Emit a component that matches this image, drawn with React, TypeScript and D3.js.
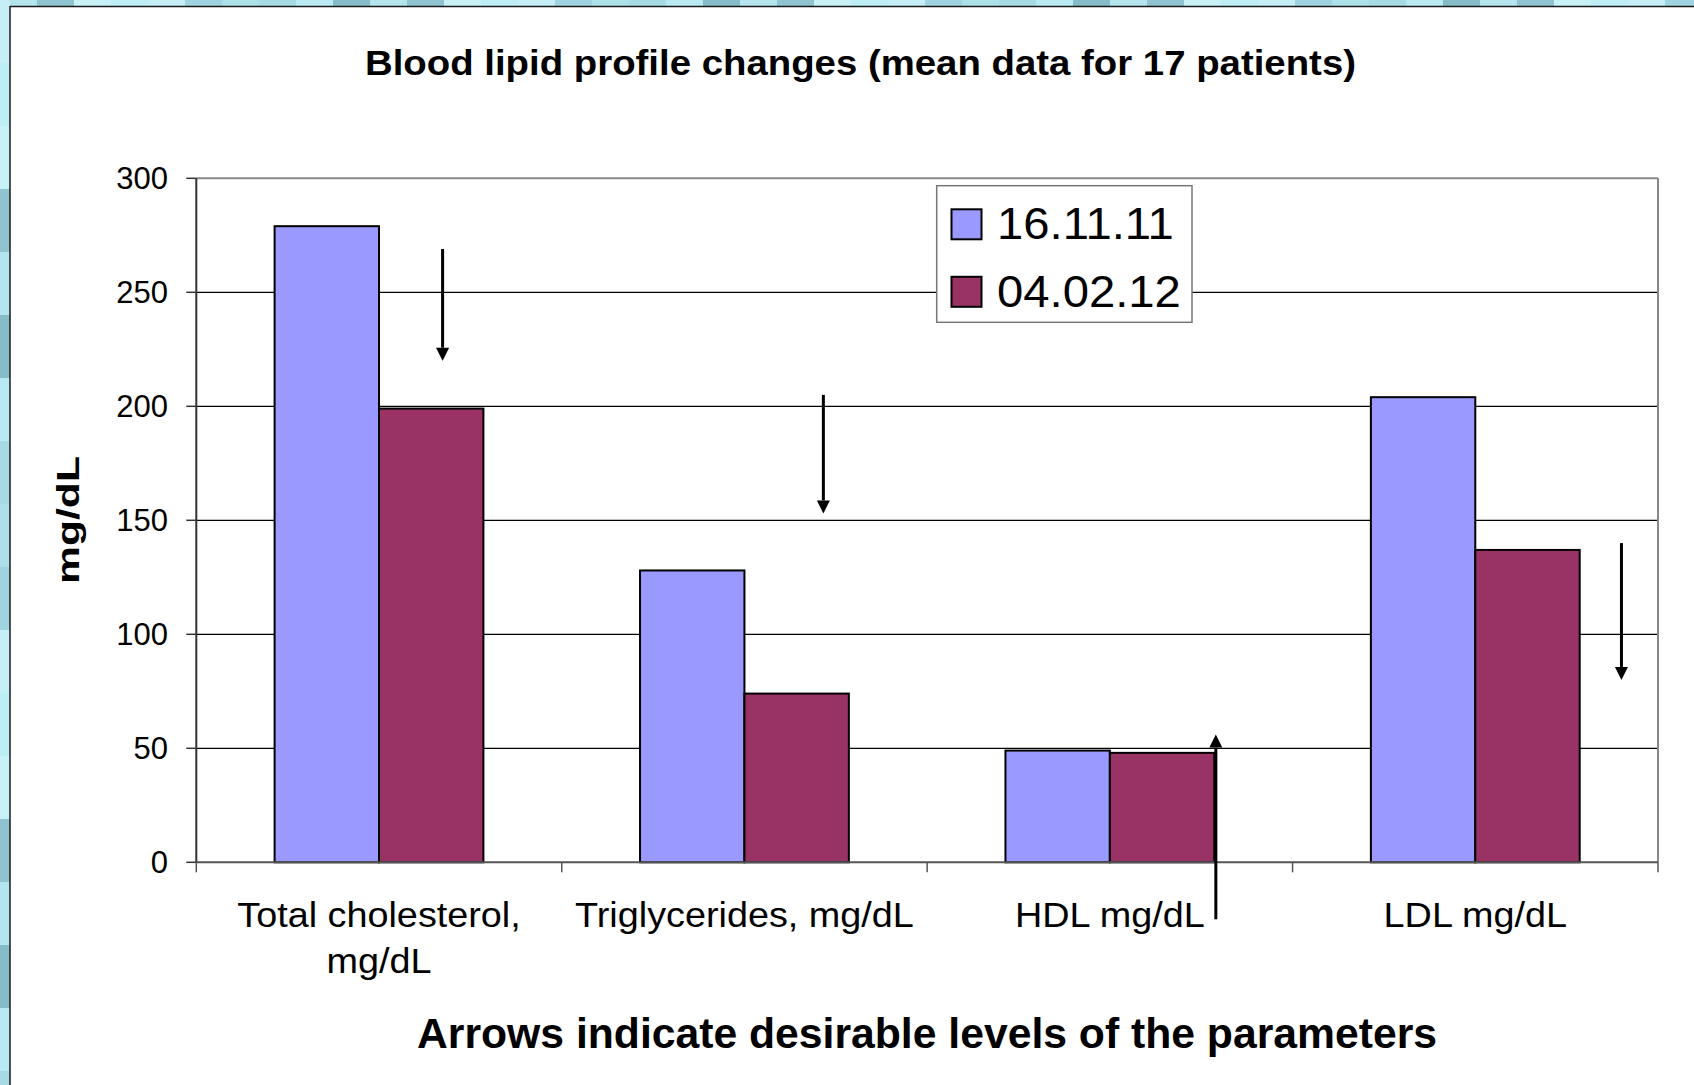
import React, { useEffect } from 'react';
import * as d3 from 'd3';

const categories = ['Total cholesterol,|mg/dL', 'Triglycerides, mg/dL', 'HDL mg/dL', 'LDL mg/dL'];
const seriesNames = ['16.11.11', '04.02.12'];
const series1 = [279, 128, 49, 204];
const series2 = [199, 74, 48, 137];
const yTicks = [0, 50, 100, 150, 200, 250, 300];
const arrowFrom = [269, 205, -25, 140];
const arrowTo = [220, 153, 56, 80];
const arrowOffset = [0.174, 0.216, 0.29, 0.4];
const seriesColors = ['#9999ff', '#993366'];
const mosaic = ['#b4e4ee', '#a6dbe6', '#c5eef6', '#8fc3cf', '#b9eaf3', '#9fd3df', '#c8f2f8', '#86bcc8', '#aee0ea', '#bdeef6'];

const W = 1694;
const H = 1085;
const FONT = '"Liberation Sans", Arial, sans-serif';

export default function App() {
  useEffect(() => {
    document.body.style.margin = '0';
  }, []);

  const left = 196.3, right = 1658, top = 178.3, bottom = 862.3;
  const x = d3.scaleBand<string>().domain(categories).range([left, right]).padding(0);
  const y = d3.scaleLinear().domain([0, 300]).range([bottom, top]);
  const bw = x.bandwidth();
  const barW = bw / 3.5;
  const values = [series1, series2];

  const topTiles = d3.range(0, W, 37);
  const leftTiles = d3.range(0, H, 63);

  return (
    <div style={{ position: 'absolute', left: 0, top: 0 }}>
      <svg width={W} height={H} style={{ display: 'block', fontFamily: FONT }}>
        <rect x={0} y={0} width={W} height={H} fill="#ffffff" />
        {topTiles.map((t, i) => (
          <rect key={'t' + i} x={t} y={0} width={37} height={7} fill={mosaic[(i * 3) % mosaic.length]} />
        ))}
        {leftTiles.map((t, i) => (
          <rect key={'l' + i} x={0} y={t} width={10} height={63} fill={mosaic[(i * 7 + 2) % mosaic.length]} />
        ))}
        <line x1={10} x2={W} y1={6.5} y2={6.5} stroke="#1a1a1a" strokeWidth={1.5} />
        <line x1={10} x2={10} y1={6} y2={H} stroke="#1a1a1a" strokeWidth={1.5} />

        {/* title */}
        <text x={860.5} y={75} textAnchor="middle" fontSize={34.5} fontWeight="bold" fill="#000"
          textLength={991} lengthAdjust="spacingAndGlyphs">
          Blood lipid profile changes (mean data for 17 patients)
        </text>

        {/* gridlines */}
        {yTicks.filter(t => t > 0 && t < 300).map(t => (
          <line key={'g' + t} x1={left} x2={right} y1={y(t)} y2={y(t)} stroke="#000" strokeWidth={1.2} />
        ))}
        {/* plot border top/right */}
        <line x1={left} x2={right} y1={top} y2={top} stroke="#888" strokeWidth={2} />
        <line x1={right} x2={right} y1={top} y2={bottom} stroke="#888" strokeWidth={2} />

        {/* bars */}
        {categories.map((c, i) =>
          values.map((vals, s) => {
            const x0 = (x(c) as number) + 0.75 * barW + s * barW;
            return (
              <rect key={c + s} x={x0} y={y(vals[i])} width={barW} height={y(0) - y(vals[i])}
                fill={seriesColors[s]} stroke="#000" strokeWidth={2} />
            );
          })
        )}

        {/* axes */}
        <line x1={left} x2={left} y1={top} y2={bottom} stroke="#333" strokeWidth={2} />
        <line x1={left} x2={right} y1={bottom} y2={bottom} stroke="#555" strokeWidth={2} />
        {yTicks.map(t => (
          <g key={'yt' + t}>
            <line x1={left - 10} x2={left} y1={y(t)} y2={y(t)} stroke="#333" strokeWidth={1.5} />
            <text x={168} y={y(t) + 11} textAnchor="end" fontSize={31} fill="#000">{t}</text>
          </g>
        ))}
        {d3.range(categories.length + 1).map(i => {
          const xx = left + i * bw;
          return <line key={'xt' + i} x1={xx} x2={xx} y1={bottom} y2={bottom + 10} stroke="#555" strokeWidth={1.5} />;
        })}
        {categories.map(c => {
          const lines = c.split('|');
          const cx = (x(c) as number) + bw / 2;
          return (
            <g key={'xl' + c} transform={`translate(${cx},926.7) scale(1.08,1)`}>
              <text x={0} y={0} textAnchor="middle" fontSize={35} fill="#000">
                {lines.map((ln, j) => (
                  <tspan key={j} x={0} dy={j === 0 ? 0 : 46.7}>{ln}</tspan>
                ))}
              </text>
            </g>
          );
        })}

        {/* y axis title */}
        <text transform="translate(79,520) rotate(-90)" textAnchor="middle" fontSize={31} fontWeight="bold"
          textLength={128} lengthAdjust="spacingAndGlyphs" fill="#000">mg/dL</text>

        {/* arrows */}
        {categories.map((c, i) => {
          const ax = (x(c) as number) + bw / 2 + arrowOffset[i] * bw;
          const y1 = y(arrowFrom[i]);
          const y2 = y(arrowTo[i]);
          const dir = y2 > y1 ? 1 : -1;
          const hl = 13, hw = 6.5;
          const base = y2 - dir * hl;
          return (
            <g key={'ar' + i}>
              <line x1={ax} x2={ax} y1={y1} y2={base} stroke="#000" strokeWidth={3} />
              <path d={`M${ax - hw},${base} L${ax + hw},${base} L${ax},${y2} Z`} fill="#000" />
            </g>
          );
        })}

        {/* legend */}
        <rect x={936.7} y={185.7} width={255.3} height={136.6} fill="#fff" stroke="#777" strokeWidth={1.5} />
        {seriesNames.map((n, s) => (
          <g key={'lg' + s}>
            <rect x={951.5} y={209.3 + s * 67.5} width={30} height={30} fill={seriesColors[s]} stroke="#000" strokeWidth={2} />
            <g transform={`translate(997,${239.3 + s * 67.5}) scale(1.05,1)`}>
              <text x={0} y={0} fontSize={45} fill="#000">{n}</text>
            </g>
          </g>
        ))}

        {/* bottom note */}
        <text x={927} y={1048} textAnchor="middle" fontSize={42} fontWeight="bold" fill="#000"
          textLength={1020} lengthAdjust="spacingAndGlyphs">
          Arrows indicate desirable levels of the parameters
        </text>
      </svg>
    </div>
  );
}
